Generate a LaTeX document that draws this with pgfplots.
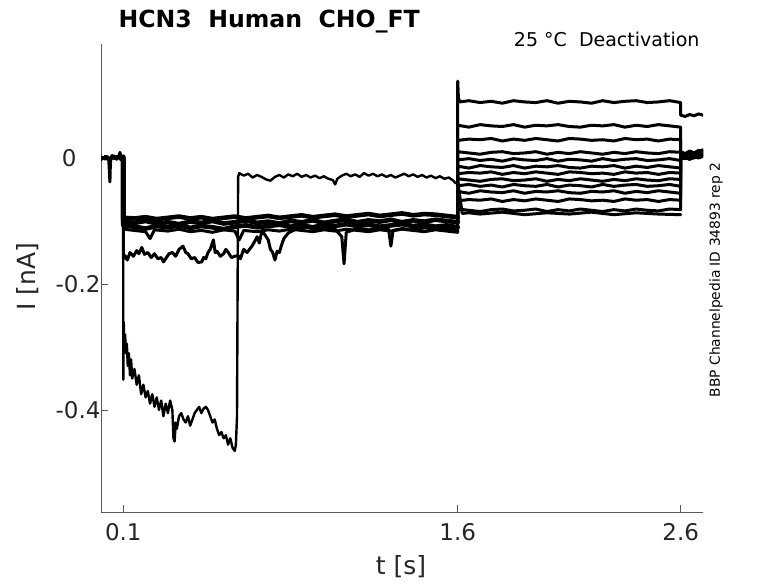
\documentclass[border=0pt]{standalone}
\usepackage{pgfplots}
\pgfplotsset{compat=1.18}
\usepackage{fontspec}
\setmainfont{DejaVu Sans}
\tikzset{trace/.style={black, line width=3pt, line join=round, line cap=round, mark=none},
         band/.style={black, line width=4.6pt, line join=round, line cap=round, mark=none}}
\begin{document}
\begin{tikzpicture}[x=1pt,y=1pt]
\path[use as bounding box] (0,0) rectangle (778,583);
\begin{axis}[
  at={(101pt,71pt)}, anchor=south west,
  scale only axis, width=602pt, height=468pt,
  xmin=0, xmax=2.7, ymin=-0.562, ymax=0.181,
  axis lines*=left,
  x axis line style={-, black!65, line width=0.7pt},
  y axis line style={-, black!65, line width=0.7pt},
  tick align=inside, major tick length=7pt,
  every tick/.style={black!65, line width=0.7pt},
  xtick={0.1,1.6,2.6}, xticklabels={0.1,1.6,2.6},
  ytick={-0.4,-0.2,0}, yticklabels={-0.4,-0.2,{0\rule{24pt}{0pt}}},
  xticklabel style={font=\fontsize{23}{27}\selectfont, text=black!85, yshift=-8pt},
  yticklabel style={font=\fontsize{23}{27}\selectfont, text=black!85, xshift=3pt},
  minor tick num=0,
]
% pre-pulse
\addplot[trace] coordinates {(0,0.002)(0.01,-0.001)(0.02,0.003)(0.03,0.000)(0.035,-0.004)(0.04,-0.038)(0.042,-0.010)(0.045,0.001)(0.05,0.004)(0.06,-0.001)(0.07,0.003)(0.08,0.000)(0.085,0.009)(0.09,0.002)(0.1,0.001)};
\addplot[trace] coordinates {(0,-0.003)(0.01,0.001)(0.02,-0.002)(0.03,0.002)(0.04,-0.003)(0.05,0.000)(0.06,0.003)(0.07,-0.002)(0.08,0.002)(0.09,-0.003)(0.1,0.000)};
% plateau traces
\addplot[band] coordinates {(0.1,0.002)(0.1,-0.095)(0.15,-0.096)(0.2,-0.094)(0.25,-0.097)(0.3,-0.095)(0.35,-0.093)(0.4,-0.096)(0.45,-0.094)(0.5,-0.097)(0.55,-0.095)(0.6,-0.093)(0.65,-0.096)(0.7,-0.094)(0.75,-0.092)(0.8,-0.095)(0.85,-0.093)(0.9,-0.091)(0.95,-0.094)(1.0,-0.092)(1.05,-0.090)(1.1,-0.093)(1.15,-0.091)(1.2,-0.089)(1.25,-0.092)(1.3,-0.090)(1.35,-0.088)(1.4,-0.091)(1.45,-0.089)(1.5,-0.090)(1.55,-0.092)(1.6,-0.094)};
\addplot[band] coordinates {(0.1,-0.003)(0.1,-0.101)(0.15,-0.103)(0.2,-0.100)(0.25,-0.104)(0.3,-0.102)(0.35,-0.105)(0.4,-0.101)(0.45,-0.103)(0.5,-0.100)(0.55,-0.104)(0.6,-0.102)(0.65,-0.099)(0.7,-0.103)(0.75,-0.101)(0.8,-0.104)(0.85,-0.100)(0.9,-0.102)(0.95,-0.099)(1.0,-0.103)(1.05,-0.100)(1.1,-0.098)(1.15,-0.102)(1.2,-0.099)(1.25,-0.101)(1.3,-0.098)(1.35,-0.102)(1.4,-0.099)(1.45,-0.101)(1.5,-0.098)(1.55,-0.100)(1.6,-0.102)};
\addplot[band] coordinates {(0.1,0.001)(0.1,-0.107)(0.15,-0.109)(0.2,-0.112)(0.25,-0.108)(0.3,-0.110)(0.35,-0.107)(0.4,-0.111)(0.45,-0.108)(0.5,-0.110)(0.55,-0.113)(0.6,-0.109)(0.65,-0.107)(0.7,-0.110)(0.75,-0.108)(0.8,-0.106)(0.85,-0.109)(0.9,-0.107)(0.95,-0.110)(1.0,-0.106)(1.05,-0.108)(1.1,-0.105)(1.15,-0.108)(1.2,-0.106)(1.25,-0.109)(1.3,-0.107)(1.35,-0.105)(1.4,-0.108)(1.45,-0.106)(1.5,-0.109)(1.55,-0.107)(1.6,-0.110)};
\addplot[trace] coordinates {(0.1,-0.002)(0.1,-0.113)(0.15,-0.115)(0.2,-0.117)(0.22,-0.128)(0.24,-0.114)(0.3,-0.116)(0.35,-0.113)(0.4,-0.117)(0.45,-0.115)(0.5,-0.118)(0.55,-0.114)(0.6,-0.116)(0.62,-0.130)(0.64,-0.115)(0.7,-0.117)(0.75,-0.114)(0.8,-0.116)(0.85,-0.113)(0.9,-0.115)(0.95,-0.117)(1.0,-0.114)(1.05,-0.116)(1.1,-0.113)(1.15,-0.115)(1.2,-0.117)(1.25,-0.114)(1.3,-0.116)(1.35,-0.113)(1.4,-0.115)(1.45,-0.117)(1.5,-0.114)(1.55,-0.116)(1.6,-0.118)};
% trace B
\addplot[trace] coordinates {(0.1,0)(0.1,-0.160)(0.108,-0.155)(0.118,-0.162)(0.13,-0.150)(0.145,-0.156)(0.16,-0.147)(0.17,-0.152)(0.183,-0.142)(0.195,-0.153)(0.21,-0.150)(0.225,-0.158)(0.24,-0.152)(0.255,-0.160)(0.27,-0.158)(0.28,-0.165)(0.29,-0.160)(0.305,-0.152)(0.32,-0.150)(0.335,-0.156)(0.35,-0.145)(0.368,-0.140)(0.38,-0.150)(0.39,-0.152)(0.405,-0.160)(0.42,-0.158)(0.435,-0.166)(0.452,-0.165)(0.46,-0.158)(0.47,-0.160)(0.48,-0.150)(0.49,-0.145)(0.504,-0.130)(0.512,-0.150)(0.52,-0.148)(0.535,-0.156)(0.55,-0.152)(0.56,-0.145)(0.571,-0.150)(0.585,-0.158)(0.6,-0.156)(0.615,-0.155)(0.625,-0.160)(0.64,-0.145)(0.655,-0.150)(0.677,-0.140)(0.69,-0.132)(0.70,-0.125)(0.71,-0.135)(0.722,-0.115)(0.735,-0.122)(0.75,-0.130)(0.76,-0.145)(0.77,-0.150)(0.78,-0.162)(0.79,-0.148)(0.80,-0.150)(0.81,-0.138)(0.82,-0.128)(0.84,-0.119)(0.88,-0.112)(0.92,-0.110)(0.96,-0.113)(1.0,-0.111)(1.05,-0.113)(1.08,-0.125)(1.09,-0.168)(1.10,-0.118)(1.15,-0.112)(1.2,-0.114)(1.25,-0.112)(1.29,-0.113)(1.30,-0.140)(1.31,-0.115)(1.35,-0.112)(1.4,-0.114)(1.45,-0.111)(1.5,-0.113)(1.55,-0.112)(1.6,-0.115)};
% trace C
\addplot[trace, line width=2.4pt] coordinates {(0.1,0.0)(0.1,-0.352)(0.102,-0.260)(0.105,-0.300)(0.108,-0.280)(0.112,-0.310)(0.116,-0.295)(0.12,-0.330)(0.125,-0.310)(0.13,-0.345)(0.135,-0.320)(0.14,-0.350)(0.15,-0.335)(0.16,-0.360)(0.17,-0.345)(0.18,-0.375)(0.19,-0.360)(0.2,-0.380)(0.21,-0.370)(0.22,-0.390)(0.23,-0.375)(0.24,-0.395)(0.25,-0.380)(0.26,-0.400)(0.27,-0.385)(0.28,-0.410)(0.29,-0.390)(0.30,-0.405)(0.31,-0.385)(0.32,-0.400)(0.325,-0.445)(0.33,-0.450)(0.335,-0.420)(0.34,-0.430)(0.35,-0.410)(0.36,-0.405)(0.37,-0.415)(0.38,-0.420)(0.39,-0.410)(0.40,-0.425)(0.41,-0.415)(0.42,-0.405)(0.43,-0.400)(0.44,-0.395)(0.45,-0.405)(0.46,-0.398)(0.47,-0.395)(0.48,-0.400)(0.49,-0.410)(0.50,-0.420)(0.51,-0.415)(0.52,-0.430)(0.53,-0.440)(0.54,-0.435)(0.55,-0.445)(0.56,-0.440)(0.57,-0.455)(0.58,-0.445)(0.59,-0.460)(0.60,-0.465)(0.605,-0.455)(0.61,-0.410)(0.615,-0.030)(0.62,-0.024)(0.64,-0.028)(0.66,-0.025)(0.68,-0.031)(0.70,-0.027)(0.72,-0.030)(0.74,-0.034)(0.76,-0.036)(0.78,-0.030)(0.80,-0.027)(0.82,-0.031)(0.84,-0.026)(0.86,-0.029)(0.88,-0.025)(0.90,-0.030)(0.92,-0.027)(0.94,-0.031)(0.96,-0.028)(0.98,-0.032)(1.00,-0.029)(1.02,-0.033)(1.04,-0.035)(1.05,-0.042)(1.06,-0.033)(1.08,-0.028)(1.10,-0.025)(1.12,-0.029)(1.14,-0.026)(1.16,-0.030)(1.18,-0.024)(1.20,-0.028)(1.22,-0.025)(1.24,-0.029)(1.26,-0.026)(1.28,-0.030)(1.30,-0.027)(1.32,-0.031)(1.34,-0.028)(1.36,-0.025)(1.38,-0.029)(1.40,-0.026)(1.42,-0.030)(1.44,-0.027)(1.46,-0.031)(1.48,-0.028)(1.50,-0.032)(1.52,-0.029)(1.54,-0.033)(1.56,-0.031)(1.58,-0.036)(1.59,-0.040)(1.6,-0.038)};
% deactivation levels
\addplot[trace] coordinates {(1.6,-0.100)(1.6,0.122)(1.603,0.095)(1.61,0.089)(1.65,0.091)(1.7,0.088)(1.75,0.090)(1.8,0.087)(1.85,0.091)(1.9,0.089)(1.95,0.088)(2.0,0.091)(2.05,0.087)(2.1,0.090)(2.15,0.089)(2.2,0.087)(2.25,0.091)(2.3,0.088)(2.35,0.090)(2.4,0.091)(2.45,0.088)(2.5,0.089)(2.55,0.091)(2.6,0.088)(2.6,0.068)(2.62,0.066)(2.64,0.069)(2.66,0.067)(2.68,0.070)(2.7,0.068)};
\addplot[trace] coordinates {(1.6,-0.100)(1.6,0.052)(1.65,0.049)(1.7,0.053)(1.75,0.051)(1.8,0.050)(1.85,0.053)(1.9,0.049)(1.95,0.052)(2.0,0.051)(2.05,0.053)(2.1,0.050)(2.15,0.049)(2.2,0.052)(2.25,0.051)(2.3,0.053)(2.35,0.049)(2.4,0.052)(2.45,0.050)(2.5,0.053)(2.55,0.051)(2.6,0.049)(2.6,0.010)(2.62,0.007)(2.64,0.011)(2.66,0.008)(2.68,0.012)(2.7,0.010)};
\addplot[trace] coordinates {(1.6,-0.100)(1.6,0.028)(1.65,0.030)(1.7,0.029)(1.75,0.031)(1.8,0.027)(1.85,0.030)(1.9,0.028)(1.95,0.031)(2.0,0.029)(2.05,0.027)(2.1,0.031)(2.15,0.030)(2.2,0.028)(2.25,0.029)(2.3,0.027)(2.35,0.031)(2.4,0.029)(2.45,0.030)(2.5,0.027)(2.55,0.030)(2.6,0.029)(2.6,0.004)(2.62,0.006)(2.64,0.003)(2.66,0.007)(2.68,0.005)(2.7,0.008)};
\addplot[trace] coordinates {(1.6,-0.100)(1.6,0.010)(1.65,0.008)(1.7,0.006)(1.75,0.009)(1.8,0.010)(1.85,0.007)(1.9,0.008)(1.95,0.010)(2.0,0.006)(2.05,0.009)(2.1,0.007)(2.15,0.010)(2.2,0.008)(2.25,0.006)(2.3,0.009)(2.35,0.007)(2.4,0.010)(2.45,0.008)(2.5,0.007)(2.55,0.010)(2.6,0.009)(2.6,0.002)(2.62,-0.001)(2.64,0.003)(2.66,0.001)(2.68,0.004)(2.7,0.006)};
\addplot[trace] coordinates {(1.6,-0.100)(1.6,-0.003)(1.65,-0.001)(1.7,-0.004)(1.75,-0.002)(1.8,-0.005)(1.85,-0.001)(1.9,-0.003)(1.95,-0.004)(2.0,-0.001)(2.05,-0.005)(2.1,-0.002)(2.15,-0.003)(2.2,-0.005)(2.25,-0.001)(2.3,-0.004)(2.35,-0.002)(2.4,-0.001)(2.45,-0.004)(2.5,-0.003)(2.55,-0.001)(2.6,-0.004)(2.6,0.006)(2.62,0.004)(2.64,0.008)(2.66,0.005)(2.68,0.009)(2.7,0.011)};
\addplot[trace] coordinates {(1.6,-0.100)(1.6,-0.013)(1.65,-0.016)(1.7,-0.012)(1.75,-0.014)(1.8,-0.015)(1.85,-0.012)(1.9,-0.016)(1.95,-0.013)(2.0,-0.014)(2.05,-0.012)(2.1,-0.015)(2.15,-0.016)(2.2,-0.013)(2.25,-0.014)(2.3,-0.012)(2.35,-0.016)(2.4,-0.013)(2.45,-0.015)(2.5,-0.012)(2.55,-0.014)(2.6,-0.016)(2.6,0.000)(2.62,0.002)(2.64,-0.002)(2.66,0.001)(2.68,0.003)(2.7,0.002)};
\addplot[trace] coordinates {(1.6,-0.100)(1.6,-0.025)(1.65,-0.023)(1.7,-0.024)(1.75,-0.022)(1.8,-0.026)(1.85,-0.023)(1.9,-0.025)(1.95,-0.022)(2.0,-0.024)(2.05,-0.026)(2.1,-0.022)(2.15,-0.023)(2.2,-0.025)(2.25,-0.024)(2.3,-0.026)(2.35,-0.022)(2.4,-0.024)(2.45,-0.023)(2.5,-0.026)(2.55,-0.023)(2.6,-0.024)(2.6,0.008)(2.62,0.006)(2.64,0.010)(2.66,0.007)(2.68,0.011)(2.7,0.013)};
\addplot[trace] coordinates {(1.6,-0.100)(1.6,-0.033)(1.65,-0.035)(1.7,-0.037)(1.75,-0.034)(1.8,-0.033)(1.85,-0.036)(1.9,-0.035)(1.95,-0.033)(2.0,-0.037)(2.05,-0.034)(2.1,-0.036)(2.15,-0.033)(2.2,-0.035)(2.25,-0.037)(2.3,-0.034)(2.35,-0.036)(2.4,-0.033)(2.45,-0.035)(2.5,-0.036)(2.55,-0.033)(2.6,-0.034)(2.6,0.003)(2.62,0.005)(2.64,0.001)(2.66,0.004)(2.68,0.006)(2.7,0.005)};
\addplot[trace] coordinates {(1.6,-0.100)(1.6,-0.044)(1.65,-0.042)(1.7,-0.045)(1.75,-0.043)(1.8,-0.046)(1.85,-0.042)(1.9,-0.044)(1.95,-0.045)(2.0,-0.042)(2.05,-0.046)(2.1,-0.043)(2.15,-0.044)(2.2,-0.046)(2.25,-0.042)(2.3,-0.045)(2.35,-0.043)(2.4,-0.042)(2.45,-0.045)(2.5,-0.044)(2.55,-0.042)(2.6,-0.045)(2.6,-0.001)(2.62,0.001)(2.64,-0.002)(2.66,0.002)(2.68,0.000)(2.7,0.003)};
\addplot[trace] coordinates {(1.6,-0.100)(1.6,-0.053)(1.65,-0.056)(1.7,-0.052)(1.75,-0.054)(1.8,-0.055)(1.85,-0.052)(1.9,-0.056)(1.95,-0.053)(2.0,-0.054)(2.05,-0.052)(2.1,-0.055)(2.15,-0.056)(2.2,-0.053)(2.25,-0.054)(2.3,-0.052)(2.35,-0.056)(2.4,-0.053)(2.45,-0.055)(2.5,-0.052)(2.55,-0.054)(2.6,-0.056)(2.6,0.005)(2.62,0.003)(2.64,0.007)(2.66,0.004)(2.68,0.008)(2.7,0.009)};
\addplot[trace] coordinates {(1.6,-0.100)(1.6,-0.068)(1.65,-0.066)(1.7,-0.067)(1.75,-0.065)(1.8,-0.069)(1.85,-0.066)(1.9,-0.068)(1.95,-0.065)(2.0,-0.067)(2.05,-0.069)(2.1,-0.065)(2.15,-0.066)(2.2,-0.068)(2.25,-0.067)(2.3,-0.069)(2.35,-0.065)(2.4,-0.067)(2.45,-0.066)(2.5,-0.069)(2.55,-0.066)(2.6,-0.067)(2.6,0.001)(2.62,-0.001)(2.64,0.002)(2.66,0.000)(2.68,0.003)(2.7,0.004)};
\addplot[trace] coordinates {(1.6,-0.118)(1.6,-0.081)(1.65,-0.083)(1.7,-0.085)(1.75,-0.082)(1.8,-0.081)(1.85,-0.084)(1.9,-0.083)(1.95,-0.081)(2.0,-0.085)(2.05,-0.082)(2.1,-0.084)(2.15,-0.081)(2.2,-0.083)(2.25,-0.085)(2.3,-0.082)(2.35,-0.084)(2.4,-0.081)(2.45,-0.083)(2.5,-0.084)(2.55,-0.081)(2.6,-0.082)(2.6,0.007)(2.62,0.005)(2.64,0.009)(2.66,0.006)(2.68,0.010)(2.7,0.012)};
\addplot[trace] coordinates {(1.6,-0.038)(1.62,-0.088)(1.65,-0.087)(1.7,-0.089)(1.8,-0.086)(1.9,-0.090)(2.0,-0.087)(2.1,-0.089)(2.2,-0.086)(2.3,-0.090)(2.4,-0.087)(2.5,-0.089)(2.6,-0.090)};
\end{axis}
\node[anchor=base west, font=\fontsize{23.6}{28}\selectfont\bfseries] at (115,555) {HCN3\hspace{0.35em} Human\hspace{0.35em} CHO\_FT};
\node[anchor=base east, font=\fontsize{19}{23}\selectfont] at (703,536) {25 °C\hspace{0.32em} Deactivation};
\node[rotate=90, font=\fontsize{13.8}{16}\selectfont] at (716,303) {BBP Channelpedia ID 34893 rep 2};
\node[rotate=90, font=\fontsize{25}{30}\selectfont, text=black!85] at (28,306) {I [nA]};
\node[font=\fontsize{25}{30}\selectfont, text=black!85] at (401,16) {t [s]};
\end{tikzpicture}
\end{document}
